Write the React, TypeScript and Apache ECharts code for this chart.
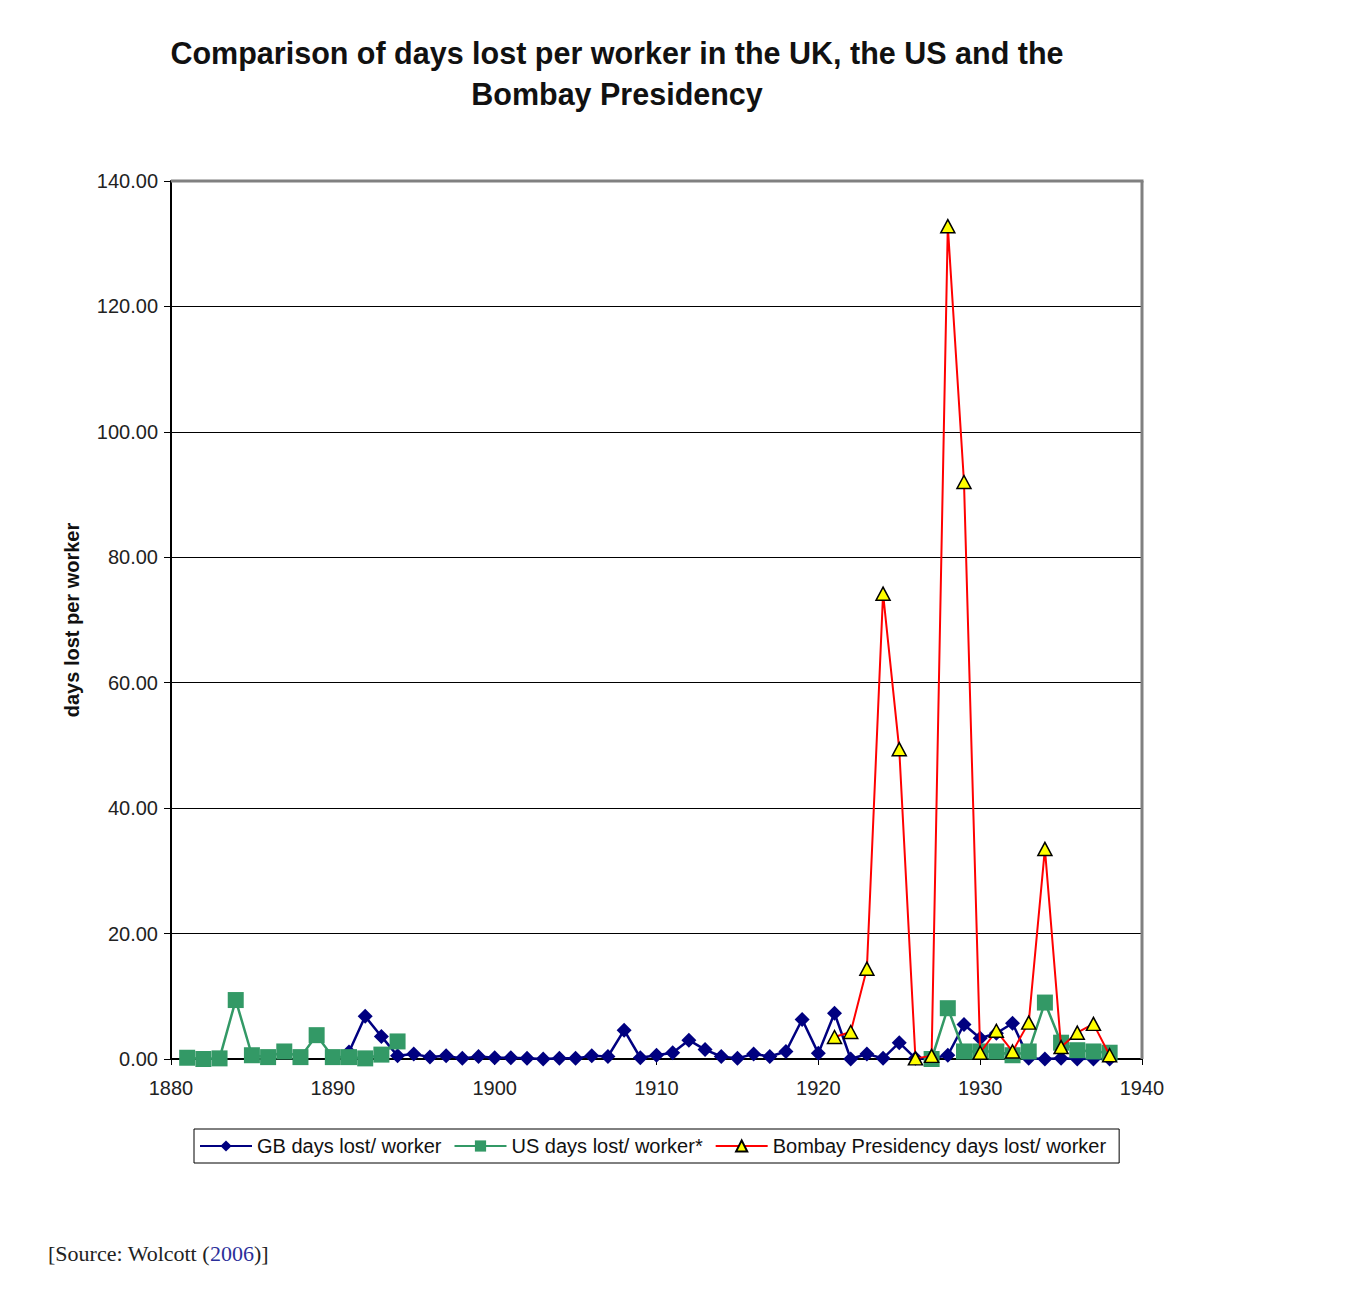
import React, { useEffect, useRef } from "react";
import * as echarts from "echarts";

const years = [
  1881, 1882, 1883, 1884, 1885, 1886, 1887, 1888, 1889, 1890,
  1891, 1892, 1893, 1894, 1895, 1896, 1897, 1898, 1899, 1900,
  1901, 1902, 1903, 1904, 1905, 1906, 1907, 1908, 1909, 1910,
  1911, 1912, 1913, 1914, 1915, 1916, 1917, 1918, 1919, 1920,
  1921, 1922, 1923, 1924, 1925, 1926, 1927, 1928, 1929, 1930,
  1931, 1932, 1933, 1934, 1935, 1936, 1937, 1938,
];

const gbValues: (number | null)[] = [
  null, null, null, null, null, null, null, null, null, null,
  1.1, 6.8, 3.6, 0.5, 0.8, 0.3, 0.5, 0.1, 0.4, 0.2,
  0.2, 0.1, 0.0, 0.1, 0.1, 0.5, 0.4, 4.6, 0.2, 0.6,
  1.0, 3.0, 1.5, 0.4, 0.1, 0.8, 0.4, 1.2, 6.3, 0.9,
  7.3, 0.0, 0.8, 0.1, 2.6, 0.1, 0.1, 0.6, 5.5, 3.3,
  4.1, 5.7, 0.1, 0.0, 0.1, 0.0, 0.0, 0.0,
];

const usValues: (number | null)[] = [
  0.2, 0.0, 0.1, 9.4, 0.6, 0.3, 1.2, 0.3, 3.8, 0.3,
  0.3, 0.1, 0.7, 2.8, null, null, null, null, null, null,
  null, null, null, null, null, null, null, null, null, null,
  null, null, null, null, null, null, null, null, null, null,
  null, null, null, null, null, null, 0.0, 8.1, 1.2, 1.2,
  1.2, 0.6, 1.2, 9.0, 2.6, 1.4, 1.2, 1.0,
];

const bombayValues: (number | null)[] = [
  null, null, null, null, null, null, null, null, null, null,
  null, null, null, null, null, null, null, null, null, null,
  null, null, null, null, null, null, null, null, null, null,
  null, null, null, null, null, null, null, null, null, null,
  3.5, 4.3, 14.4, 74.2, 49.4, 0.1, 0.5, 132.8, 92.0, 1.0,
  4.5, 1.2, 5.8, 33.5, 1.9, 4.2, 5.6, 0.6,
];

const seriesNames = [
  "GB days lost/ worker",
  "US days lost/ worker*",
  "Bombay Presidency days lost/ worker",
];

const titleText =
  "Comparison of days lost per worker in the UK, the US and the\nBombay Presidency";
const yAxisTitle = "days lost per worker";

const FONT = "'Liberation Sans', Arial, sans-serif";

// plot frame (pixels) — layout only
const PLOT_LEFT = 171;
const PLOT_TOP = 181;
const PLOT_RIGHT = 1142;
const PLOT_BOTTOM = 1059;

function pairs(vals: (number | null)[]) {
  return years.map((y, i) => [y, vals[i]]);
}

export default function App() {
  const ref = useRef<HTMLDivElement>(null);

  useEffect(() => {
    if (!ref.current) return;
    const chart = echarts.init(ref.current, undefined, { renderer: "svg" });
    const option: any = {
      animation: false,
      backgroundColor: "#ffffff",
      title: {
        text: titleText,
        left: 612,
        top: 27,
        textAlign: "center",
        textStyle: {
          fontFamily: FONT,
          fontSize: 30.5,
          fontWeight: "bold",
          color: "#111",
          lineHeight: 41,
        },
      },
      grid: {
        left: PLOT_LEFT,
        top: PLOT_TOP,
        right: 1362 - PLOT_RIGHT,
        bottom: 1296 - PLOT_BOTTOM,
        containLabel: false,
      },
      legend: {
        left: 194,
        top: 1129,
        orient: "horizontal",
        borderColor: "#000",
        borderWidth: 1,
        padding: [7, 13, 7, 5],
        itemWidth: 52,
        itemHeight: 14,
        itemGap: 12,
        textStyle: { fontFamily: FONT, fontSize: 20, color: "#111" },
        data: seriesNames,
      },
      xAxis: {
        type: "value",
        min: 1880,
        max: 1940,
        interval: 10,
        axisLine: { show: true, onZero: false, lineStyle: { color: "#000", width: 2 } },
        axisTick: { show: true, length: 6, lineStyle: { color: "#000", width: 1 } },
        axisLabel: {
          fontFamily: FONT,
          fontSize: 20,
          color: "#222",
          margin: 19,
          formatter: (v: number) => String(v),
        },
        splitLine: { show: false },
      },
      yAxis: {
        type: "value",
        min: 0,
        max: 140,
        interval: 20,
        axisLine: { show: true, lineStyle: { color: "#000", width: 2 } },
        axisTick: { show: true, length: 7, lineStyle: { color: "#000", width: 1 } },
        axisLabel: {
          fontFamily: FONT,
          fontSize: 20,
          color: "#222",
          margin: 13,
          formatter: (v: number) => v.toFixed(2),
        },
        splitLine: { show: true, lineStyle: { color: "#000", width: 1 } },
      },
      graphic: [
        {
          type: "line",
          z: 100,
          shape: { x1: PLOT_LEFT, y1: PLOT_TOP, x2: PLOT_RIGHT + 1.5, y2: PLOT_TOP },
          style: { stroke: "#808080", lineWidth: 3 },
        },
        {
          type: "line",
          z: 100,
          shape: { x1: PLOT_RIGHT, y1: PLOT_TOP, x2: PLOT_RIGHT, y2: PLOT_BOTTOM },
          style: { stroke: "#808080", lineWidth: 3 },
        },
        {
          type: "text",
          x: 72,
          y: 620,
          rotation: Math.PI / 2,
          style: {
            text: yAxisTitle,
            fontFamily: FONT,
            fontSize: 20,
            fontWeight: "bold",
            fill: "#111",
            textAlign: "center",
            textVerticalAlign: "middle",
          },
        },
        {
          type: "text",
          left: 48,
          top: 1242,
          style: {
            text: "{a|[Source: Wolcott (}{b|2006}{a|)]}",
            rich: {
              a: { fontFamily: "'Liberation Serif', 'DejaVu Serif', serif", fontSize: 22, fill: "#222" },
              b: { fontFamily: "'Liberation Serif', 'DejaVu Serif', serif", fontSize: 22, fill: "#2b2f9a" },
            },
          },
        },
      ],
      series: [
        {
          name: seriesNames[0],
          type: "line",
          data: pairs(gbValues),
          symbol: "diamond",
          symbolSize: 15,
          showAllSymbol: true,
          lineStyle: { color: "#000080", width: 2.5 },
          itemStyle: { color: "#000080" },
          z: 2,
        },
        {
          name: seriesNames[1],
          type: "line",
          data: pairs(usValues),
          symbol: "rect",
          symbolSize: 16,
          showAllSymbol: true,
          lineStyle: { color: "#339966", width: 2.5 },
          itemStyle: { color: "#339966" },
          z: 3,
        },
        {
          name: seriesNames[2],
          type: "line",
          data: pairs(bombayValues),
          symbol: "triangle",
          symbolSize: [14, 13],
          showAllSymbol: true,
          lineStyle: { color: "#ff0000", width: 2 },
          itemStyle: { color: "#ffff00", borderColor: "#000", borderWidth: 1.5 },
          z: 4,
        },
      ],
    };
    chart.setOption(option);
    return () => chart.dispose();
  }, []);

  return (
    <div
      ref={ref}
      style={{ position: "absolute", left: 0, top: 0, width: 1362, height: 1296 }}
    />
  );
}
